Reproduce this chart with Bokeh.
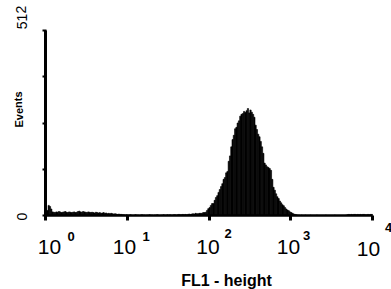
import numpy as np
from bokeh.plotting import figure
from bokeh.models import Range1d, FixedTicker, Label
from bokeh.embed import file_html
from bokeh.resources import INLINE

# ---- data ----
n_channels = 256
decades = 4
counts = (
    [4, 14, 28, 25, 18, 10]
    + [9, 8, 10, 9, 11, 10, 8, 9, 10, 11, 9, 8, 10, 9, 8]
    + [9, 10, 8, 9, 11, 12, 10, 9, 11, 10, 9, 8, 10, 9, 8]
    + [9, 8, 7, 9, 8, 7, 8, 6, 7, 8, 6, 7, 5, 6, 5]
    + [6, 5, 4, 5, 4, 3, 4, 3, 3, 2]
    + [2, 1, 2, 1, 1, 2, 1, 0, 1, 2, 1, 1, 0, 1, 2, 1, 1, 0, 1, 1,
       2, 1, 1, 0, 1, 1, 2, 1, 0, 1, 1, 2, 1, 1, 2, 1, 2, 1, 1, 2,
       2, 1, 2, 3, 2, 2, 3, 2, 3, 2, 3, 4, 3, 4, 5, 4, 6, 5, 5, 6]
    + [6, 6, 8, 8, 9, 14, 19, 22, 28, 33, 33, 42, 50, 55, 64, 72, 80, 88, 100, 105,
       118, 122, 150, 165, 190, 210, 222, 240, 244, 256, 262, 275, 280, 282, 288, 285,
       290, 296, 284, 292, 286, 280, 272, 250, 238, 225, 218, 205, 190, 172, 145, 140,
       135, 133, 130, 125, 100, 78, 70, 60, 52, 47, 40, 35, 30, 27, 22, 18, 15, 13,
       10, 8, 6, 4, 3, 2]
    + [1, 1, 0, 1, 0, 0, 1, 0, 0, 0, 1, 0, 0, 0, 0, 1, 0, 0, 0, 0,
       0, 0, 1, 0, 0, 0, 0, 0, 0, 1, 0, 0, 0, 0, 0, 0, 0, 0, 1]
    + [2, 3, 2, 3, 2, 3, 3, 2, 3, 2, 3, 2, 3, 3, 2, 2, 3, 2, 3, 3]
)
y_max = 512
y_ticks = [0, 128, 256, 384, 512]
x_ticks = [1, 10, 100, 1000, 10000]
x_tick_base = ["10", "10", "10", "10", "10"]
x_tick_exp = ["0", "1", "2", "3", "4"]
x_label = "FL1 - height"
y_label = "Events"
y_tick_values = [0, 512]
y_tick_texts = ["0", "512"]

# ---- layout (canvas pixels) ----
W, H = 391, 289
AX_L, AX_R = 45, 372      # x pixel of 10^0 and 10^4
AX_B, AX_T = 215, 30      # y pixel of 0 and 512
PX_DEC = (AX_R - AX_L) / decades
PX_Y = (AX_B - AX_T) / y_max
FONT = "Liberation Sans"


def xdata(cx):
    return 10 ** ((cx - AX_L) / PX_DEC)


def ydata(cy):
    return (AX_B - cy) / PX_Y


p = figure(width=W, height=H, x_axis_type="log",
           x_range=Range1d(xdata(0), xdata(W)), y_range=Range1d(ydata(H), ydata(0)),
           output_backend="svg", toolbar_location=None,
           min_border_left=0, min_border_right=0,
           min_border_top=0, min_border_bottom=0)
p.outline_line_color = None
p.grid.visible = False
p.background_fill_color = "white"
p.border_fill_color = "white"

edges = 10 ** (decades * np.arange(n_channels + 1) / n_channels)
p.quad(left=edges[:-1], right=edges[1:], bottom=0, top=counts,
       fill_color="black", line_color="black", line_width=0.6)

xa = p.xaxis[0]
xa.fixed_location = 0
xa.bounds = (x_ticks[0], x_ticks[-1])
xa.ticker = FixedTicker(ticks=x_ticks, minor_ticks=[])
xa.major_label_overrides = {t: " " for t in x_ticks}
xa.major_label_text_alpha = 0
xa.axis_line_width = 2.5
xa.axis_line_color = "black"
xa.major_tick_line_width = 3
xa.major_tick_out = 5
xa.major_tick_in = 0
xa.minor_tick_line_color = None

ya = p.yaxis[0]
ya.fixed_location = x_ticks[0]
ya.bounds = (0, y_max)
ya.ticker = FixedTicker(ticks=y_ticks, minor_ticks=[])
ya.major_label_overrides = {t: " " for t in y_ticks}
ya.major_label_text_alpha = 0
ya.axis_line_width = 3
ya.axis_line_color = "black"
ya.major_tick_line_width = 2
ya.major_tick_out = 3
ya.major_tick_in = 1
ya.minor_tick_line_color = None

# x tick labels: "10" with a raised exponent
base_cx = [49, 124, 207.5, 288, 368]
base_cy = [246, 246, 246, 246, 248]
exp_cx = [70.5, 145.5, 227.5, 306, 388]
exp_cy = [236, 236, 233, 235, 227]
for i in range(len(x_ticks)):
    p.add_layout(Label(x=xdata(base_cx[i]), y=ydata(base_cy[i]), text=x_tick_base[i],
                       text_font=FONT, text_font_size="21px", text_align="center",
                       text_baseline="alphabetic", text_color="black"))
    p.add_layout(Label(x=xdata(exp_cx[i]), y=ydata(exp_cy[i]), text=x_tick_exp[i],
                       text_font=FONT, text_font_size="13px", text_font_style="bold",
                       text_align="center", text_baseline="alphabetic",
                       text_color="black"))

# y tick labels, rotated
y_tick_rows = [216, 17]
for txt, cy in zip(y_tick_texts, y_tick_rows):
    p.add_layout(Label(x=xdata(21), y=ydata(cy), text=txt,
                       text_font=FONT, text_font_size="14px", angle=1.5708,
                       text_align="center", text_baseline="middle",
                       text_color="black"))

p.add_layout(Label(x=xdata(18), y=ydata(109), text=y_label,
                   text_font=FONT, text_font_size="11px", text_font_style="bold",
                   angle=1.5708, text_align="center", text_baseline="middle",
                   text_color="black"))

p.add_layout(Label(x=xdata(226), y=ydata(280), text=x_label,
                   text_font=FONT, text_font_size="16px", text_font_style="bold",
                   text_align="center", text_baseline="alphabetic",
                   text_color="black"))

open("out.html", "w").write(file_html(p, INLINE))
